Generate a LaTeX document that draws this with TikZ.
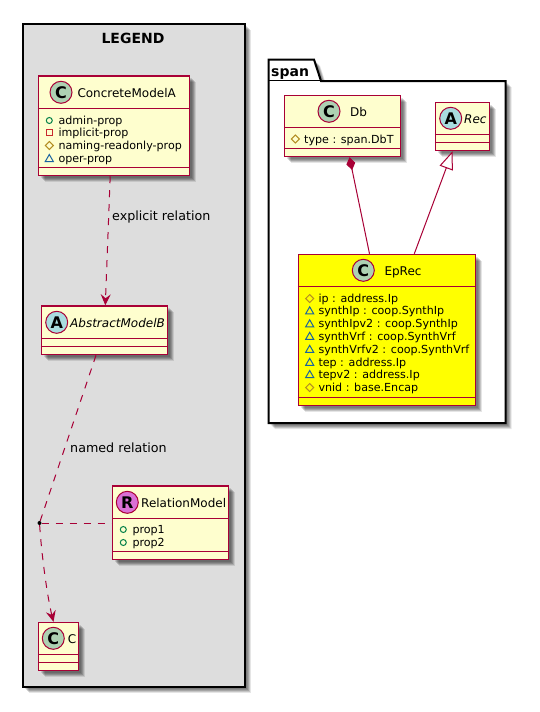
\documentclass[tikz,border=0pt]{standalone}
\usepackage{fontspec}
\setmainfont{DejaVu Sans}
\usetikzlibrary{arrows.meta,fit}
\definecolor{umlred}{HTML}{A80036}
\definecolor{umlfill}{HTML}{FEFECE}
\definecolor{umlyellow}{HTML}{FFFF00}
\definecolor{spotc}{HTML}{ADD1B2}
\definecolor{spota}{HTML}{A9DCDF}
\definecolor{spotr}{HTML}{DA70D6}
\definecolor{legendgray}{HTML}{DDDDDD}
\definecolor{icongreen}{HTML}{038048}
\definecolor{iconred}{HTML}{C82930}
\definecolor{icongold}{HTML}{B38D22}
\definecolor{iconblue}{HTML}{1963A0}
\newcommand{\fsz}[1]{\fontsize{#1}{#1}\selectfont}
\tikzset{
  softshadow/.style={
    preaction={draw=none,fill=black,opacity=.12,transform canvas={shift={(2pt,-2pt)}}},
    preaction={draw=none,fill=black,opacity=.14,transform canvas={shift={(3pt,-3pt)}}},
    preaction={draw=none,fill=black,opacity=.16,transform canvas={shift={(4pt,-4pt)}}},
    preaction={draw=none,fill=black,opacity=.14,transform canvas={shift={(5pt,-5pt)}}},
    preaction={draw=none,fill=black,opacity=.10,transform canvas={shift={(6pt,-6pt)}}}},
  clsbox/.style={draw=umlred,line width=1.5pt,inner sep=0pt,fill=umlfill,softshadow},
  pkgbox/.style={draw=black,line width=2pt,inner sep=0pt,softshadow},
  sep/.style={draw=umlred,line width=1.5pt},
  conn/.style={draw=umlred,line width=1pt},
  dash7/.style={dash pattern=on 7pt off 7pt},
  spot/.style={circle,draw=umlred,line width=1pt,minimum size=22pt,inner sep=0pt,font=\fsz{16}\bfseries,text=black},
  cname/.style={anchor=base west,inner sep=0pt,font=\fsz{12}},
  aname/.style={anchor=base west,inner sep=0pt,font=\fsz{11.1}},
  clabel/.style={anchor=base west,inner sep=0pt,font=\fsz{12.7}},
  ptitle/.style={anchor=base,inner sep=0pt,font=\fsz{14}\bfseries},
  arr/.style={-{Stealth[length=11pt,width=10pt,inset=4pt]}},
}
% class box: name, x0, y0, x1, y1, fill
\newcommand{\umlclass}[6]{%
  \coordinate (#1-nw) at (#2,#3);
  \coordinate (#1-se) at (#4,#5);
  \node[clsbox,fill=#6,fit=(#1-nw)(#1-se)] (#1) {};}
\newcommand{\seph}[2]{\draw[sep] (#1.west |- 0,#2) -- (#1.east |- 0,#2);}
\newcommand{\icpub}[2]{\draw[icongreen,line width=1pt] (#1,#2) circle[radius=3pt];}
\newcommand{\icpri}[2]{\draw[iconred,line width=1pt] (#1-3,#2-3) rectangle (#1+3,#2+3);}
\newcommand{\icpro}[2]{\draw[icongold,line width=1pt] (#1-4,#2) -- (#1,#2-4) -- (#1+4,#2) -- (#1,#2+4) -- cycle;}
\newcommand{\icpkg}[2]{\draw[iconblue,line width=1pt] (#1-4,#2+3) -- (#1,#2-4) -- (#1+4,#2+3) -- cycle;}
\begin{document}
\begin{tikzpicture}[x=1pt,y=-1pt]
\useasboundingbox (0,0) rectangle (539,712);
% LEGEND package
\coordinate (legend-nw) at (22.5,24);
\coordinate (legend-se) at (244.5,687);
\node[pkgbox,fill=legendgray,fit=(legend-nw)(legend-se)] (legend) {};
\node[ptitle] (legendtitle) at (133,43) {LEGEND};
% span package
\path[pkgbox,draw=black,fill=white] (268.5,59.5) -- (314,59.5) -- (321,81) -- (505.5,81) -- (505.5,423) -- (268.5,423) -- cycle;
\draw[black,line width=1.5pt] (268.5,80.5) -- (321,80.5);
\node[ptitle,anchor=base west] (spantitle) at (271,76) {span};
% ConcreteModelA
\umlclass{concrete}{38.5}{76}{189.5}{175.5}{umlfill}
\seph{concrete}{108.5}\seph{concrete}{167.5}
\node[spot,fill=spotc] (concretespot) at (61,92.3) {C};
\node[cname] (concretename) at (77.3,97) {ConcreteModelA};
\icpub{49.3}{120.5}\node[aname] (c1) at (58.3,124.3) {admin-prop};
\icpri{49.3}{132.8}\node[aname] (c2) at (58.3,136.8) {implicit-prop};
\icpro{49.3}{145.5}\node[aname] (c3) at (58.3,149.3) {naming-readonly-prop};
\icpkg{49.3}{158.5}\node[aname] (c4) at (58.3,162.3) {oper-prop};
% AbstractModelB
\umlclass{abstract}{41.5}{306}{167.5}{354.5}{umlfill}
\seph{abstract}{338.5}\seph{abstract}{346.5}
\node[spot,fill=spota] (abstractspot) at (56.7,322.3) {A};
\node[cname,font=\fsz{12}\itshape] (abstractname) at (70,327) {AbstractModelB};
% RelationModel
\umlclass{relation}{112.5}{486}{228.5}{559.5}{umlfill}
\seph{relation}{518.5}\seph{relation}{551.5}
\node[spot,fill=spotr] (relationspot) at (127.3,502.3) {R};
\node[cname] (relationname) at (141,507) {RelationModel};
\icpub{123.3}{529.5}\node[aname] (r1) at (132.3,533.3) {prop1};
\icpub{123.3}{542.5}\node[aname] (r2) at (132.3,546.3) {prop2};
% C
\umlclass{classc}{38.5}{622.5}{78.5}{670.5}{umlfill}
\seph{classc}{654.5}\seph{classc}{662.5}
\node[spot,fill=spotc] (classcspot) at (53.3,638.3) {C};
\node[cname] (classcname) at (67.7,643) {C};
% Db
\umlclass{db}{284.5}{95.5}{400.5}{156.5}{umlfill}
\seph{db}{127.5}\seph{db}{148.5}
\node[spot,fill=spotc] (dbspot) at (329,111.3) {C};
\node[cname] (dbname) at (350,116) {Db};
\icpro{295.3}{139}\node[aname] (d1) at (304,143) {type : span.DbT};
% Rec
\umlclass{rec}{435.5}{102.5}{489.5}{150.5}{umlfill}
\seph{rec}{134.5}\seph{rec}{142.5}
\node[spot,fill=spota] (recspot) at (450.7,118.3) {A};
\node[cname,font=\fsz{12}\itshape] (recname) at (464,123) {Rec};
% EpRec
\umlclass{eprec}{298.5}{254.5}{475.5}{405.5}{umlyellow}
\seph{eprec}{286.5}\seph{eprec}{397.5}
\node[spot,fill=spotc] (eprecspot) at (363.3,270.3) {C};
\node[cname] (eprecname) at (384.3,275) {EpRec};
\icpro{309.7}{298.5}\node[aname] (e1) at (318.3,302.3) {ip : address.Ip};
\icpkg{309.7}{310.8}\node[aname] (e2) at (318.3,314.8) {synthIp : coop.SynthIp};
\icpkg{309.7}{323.8}\node[aname] (e3) at (318.3,327.8) {synthIpv2 : coop.SynthIp};
\icpkg{309.7}{336.3}\node[aname] (e4) at (318.3,340.3) {synthVrf : coop.SynthVrf};
\icpkg{309.7}{349.3}\node[aname] (e5) at (318.3,353.3) {synthVrfv2 : coop.SynthVrf};
\icpkg{309.7}{362.3}\node[aname] (e6) at (318.3,366.3) {tep : address.Ip};
\icpkg{309.7}{374.5}\node[aname] (e7) at (318.3,378.5) {tepv2 : address.Ip};
\icpro{309.7}{387.5}\node[aname] (e8) at (318.3,391.3) {vnid : base.Encap};
% junction
\node[circle,fill=black,inner sep=0pt,minimum size=4pt] (junction) at (39.5,523) {};
% connectors
\draw[conn,dash7,arr] ([xshift=-3.8pt]concrete.south) -- ([xshift=.8pt]abstract.north);
\draw[conn,dash7] ([xshift=-8.5pt]abstract.south) -- (junction);
\draw[conn,dash7] (junction) -- (relation.west |- junction);
\draw[conn,dash7,arr] (junction) .. controls (42,560) and (48,600) .. ([xshift=-5pt]classc.north);
\draw[conn,{Diamond[length=13pt,width=9pt]}-] ([xshift=7pt]db.south) -- ([xshift=-17.5pt]eprec.north);
\draw[conn,{Triangle[open,length=18pt,width=14pt,fill=white]}-] ([xshift=-10pt]rec.south) -- ([xshift=27.3pt]eprec.north);
% labels
\node[clabel] (lab1) at (112,220.5) {explicit relation};
\node[clabel] (lab2) at (70,452) {named relation};
\end{tikzpicture}
\end{document}
